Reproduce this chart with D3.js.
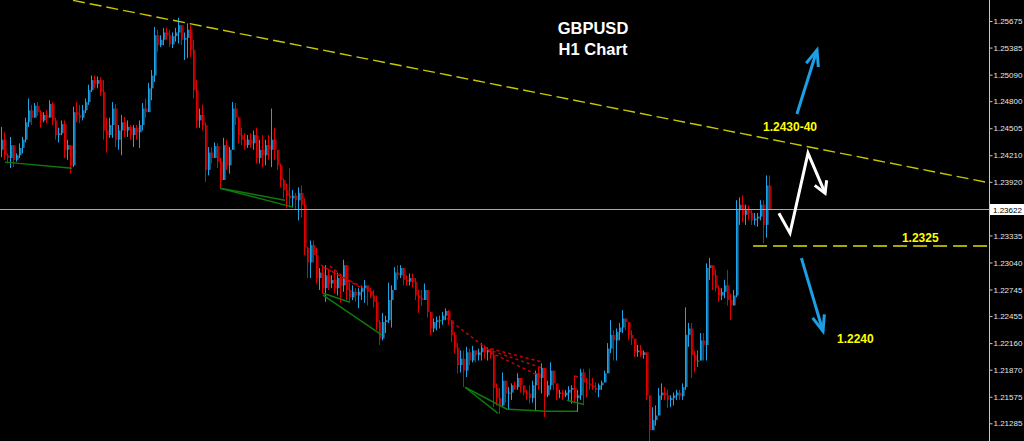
<!DOCTYPE html>
<html><head><meta charset="utf-8">
<script src="https://cdn.jsdelivr.net/npm/d3@7"></script>
<style>html,body{margin:0;padding:0;background:#000;overflow:hidden}</style>
</head><body><svg id="c" width="1024" height="441"></svg>
<script>
// ---------------- DATA ----------------
const firstOpen = 1.2427;
const highs = [1.2452,1.2446,1.2423,1.2441,1.2427,1.2423,1.2434,1.2441,1.2462,1.2483,1.2476,1.2478,1.2479,1.2470,1.2468,1.2470,1.2481,1.2479,1.2462,1.2451,
1.2459,1.2459,1.2438,1.2432,1.2474,1.2479,1.2476,1.2476,1.2483,1.2498,1.2508,1.2508,1.2507,1.2506,1.2503,1.2462,1.2462,1.2479,1.2477,1.2454,
1.2465,1.2463,1.2459,1.2454,1.2454,1.2454,1.2459,1.2478,1.2483,1.2500,1.2514,1.2561,1.2558,1.2552,1.2560,1.2560,1.2558,1.2555,1.2560,1.2571,
1.2561,1.2555,1.2565,1.2563,1.2547,1.2503,1.2472,1.2476,1.2457,1.2430,1.2430,1.2435,1.2434,1.2418,1.2440,1.2438,1.2430,1.2479,1.2478,1.2463,
1.2451,1.2445,1.2443,1.2445,1.2448,1.2451,1.2438,1.2443,1.2438,1.2443,1.2472,1.2451,1.2427,1.2412,1.2396,1.2390,1.2407,1.2383,1.2380,1.2386,
1.2388,1.2374,1.2321,1.2328,1.2328,1.2320,1.2298,1.2301,1.2301,1.2296,1.2290,1.2296,1.2293,1.2290,1.2307,1.2301,1.2285,1.2279,1.2276,1.2276,
1.2279,1.2285,1.2279,1.2276,1.2274,1.2268,1.2241,1.2249,1.2246,1.2282,1.2279,1.2299,1.2301,1.2301,1.2298,1.2290,1.2292,1.2292,1.2287,1.2274,
1.2274,1.2281,1.2268,1.2250,1.2243,1.2245,1.2246,1.2250,1.2254,1.2252,1.2241,1.2228,1.2216,1.2208,1.2208,1.2212,1.2210,1.2213,1.2208,1.2210,
1.2216,1.2214,1.2211,1.2210,1.2208,1.2172,1.2167,1.2184,1.2175,1.2168,1.2172,1.2174,1.2183,1.2173,1.2169,1.2165,1.2170,1.2175,1.2186,1.2190,
1.2194,1.2183,1.2175,1.2195,1.2186,1.2170,1.2165,1.2165,1.2165,1.2169,1.2170,1.2181,1.2165,1.2188,1.2188,1.2178,1.2188,1.2178,1.2173,1.2172,
1.2175,1.2186,1.2216,1.2241,1.2230,1.2232,1.2238,1.2252,1.2243,1.2236,1.2230,1.2219,1.2214,1.2214,1.2208,1.2206,1.2159,1.2146,1.2148,1.2167,
1.2172,1.2168,1.2165,1.2159,1.2162,1.2165,1.2165,1.2172,1.2255,1.2238,1.2238,1.2208,1.2208,1.2227,1.2227,1.2303,1.2309,1.2301,1.2296,1.2279,
1.2276,1.2285,1.2296,1.2270,1.2274,1.2372,1.2375,1.2377,1.2367,1.2366,1.2361,1.2358,1.2358,1.2372,1.2372,1.2399,1.2399];
const lows = [1.2419,1.2416,1.2412,1.2407,1.2408,1.2414,1.2418,1.2423,1.2435,1.2452,1.2454,1.2462,1.2464,1.2451,1.2457,1.2456,1.2463,1.2454,1.2438,1.2435,
1.2443,1.2418,1.2416,1.2401,1.2408,1.2457,1.2456,1.2459,1.2467,1.2476,1.2490,1.2494,1.2494,1.2486,1.2438,1.2424,1.2440,1.2440,1.2430,1.2427,
1.2421,1.2441,1.2441,1.2438,1.2430,1.2438,1.2429,1.2448,1.2462,1.2476,1.2481,1.2501,1.2534,1.2539,1.2541,1.2547,1.2539,1.2538,1.2545,1.2543,
1.2541,1.2525,1.2527,1.2528,1.2483,1.2451,1.2451,1.2448,1.2392,1.2399,1.2412,1.2419,1.2407,1.2385,1.2401,1.2405,1.2401,1.2427,1.2454,1.2434,
1.2432,1.2427,1.2429,1.2429,1.2427,1.2412,1.2412,1.2408,1.2410,1.2416,1.2408,1.2416,1.2405,1.2386,1.2374,1.2363,1.2364,1.2364,1.2361,1.2350,
1.2353,1.2312,1.2287,1.2287,1.2304,1.2281,1.2274,1.2270,1.2261,1.2274,1.2276,1.2270,1.2268,1.2260,1.2272,1.2263,1.2261,1.2263,1.2261,1.2254,
1.2263,1.2260,1.2257,1.2265,1.2255,1.2230,1.2214,1.2219,1.2227,1.2238,1.2233,1.2274,1.2285,1.2287,1.2279,1.2279,1.2279,1.2277,1.2263,1.2249,
1.2257,1.2263,1.2244,1.2225,1.2228,1.2230,1.2232,1.2236,1.2241,1.2236,1.2217,1.2205,1.2183,1.2184,1.2168,1.2179,1.2192,1.2195,1.2195,1.2197,
1.2197,1.2199,1.2197,1.2199,1.2146,1.2148,1.2139,1.2146,1.2151,1.2143,1.2154,1.2165,1.2165,1.2162,1.2159,1.2154,1.2150,1.2151,1.2143,1.2165,
1.2161,1.2135,1.2157,1.2165,1.2165,1.2154,1.2156,1.2154,1.2157,1.2154,1.2150,1.2151,1.2141,1.2154,1.2148,1.2157,1.2165,1.2165,1.2162,1.2157,
1.2165,1.2175,1.2186,1.2205,1.2197,1.2197,1.2219,1.2227,1.2230,1.2219,1.2214,1.2201,1.2201,1.2201,1.2199,1.2154,1.2109,1.2121,1.2126,1.2137,
1.2154,1.2154,1.2145,1.2146,1.2148,1.2154,1.2154,1.2154,1.2165,1.2212,1.2178,1.2184,1.2190,1.2197,1.2197,1.2197,1.2285,1.2274,1.2272,1.2261,
1.2263,1.2265,1.2257,1.2241,1.2257,1.2266,1.2345,1.2348,1.2345,1.2350,1.2345,1.2345,1.2343,1.2350,1.2325,1.2331,1.2361];
const closes = [1.2438,1.2421,1.2418,1.2432,1.2416,1.2421,1.2429,1.2438,1.2457,1.2470,1.2462,1.2475,1.2468,1.2459,1.2465,1.2462,1.2477,1.2459,1.2443,1.2445,
1.2455,1.2427,1.2432,1.2410,1.2468,1.2465,1.2462,1.2470,1.2479,1.2492,1.2503,1.2499,1.2503,1.2490,1.2448,1.2443,1.2454,1.2472,1.2438,1.2448,
1.2457,1.2448,1.2452,1.2443,1.2451,1.2446,1.2454,1.2472,1.2468,1.2494,1.2508,1.2552,1.2541,1.2547,1.2555,1.2552,1.2542,1.2551,1.2555,1.2563,
1.2547,1.2549,1.2558,1.2536,1.2492,1.2459,1.2465,1.2454,1.2405,1.2424,1.2418,1.2431,1.2414,1.2394,1.2432,1.2410,1.2427,1.2472,1.2462,1.2443,
1.2438,1.2432,1.2438,1.2434,1.2443,1.2418,1.2427,1.2421,1.2432,1.2427,1.2438,1.2427,1.2410,1.2394,1.2383,1.2377,1.2374,1.2377,1.2372,1.2380,
1.2367,1.2320,1.2304,1.2323,1.2312,1.2287,1.2293,1.2276,1.2290,1.2281,1.2285,1.2276,1.2287,1.2279,1.2301,1.2274,1.2266,1.2272,1.2268,1.2272,
1.2276,1.2279,1.2272,1.2268,1.2261,1.2239,1.2221,1.2239,1.2241,1.2263,1.2274,1.2293,1.2290,1.2298,1.2285,1.2283,1.2287,1.2283,1.2268,1.2265,
1.2263,1.2274,1.2250,1.2232,1.2239,1.2241,1.2241,1.2246,1.2251,1.2241,1.2225,1.2211,1.2192,1.2199,1.2186,1.2206,1.2197,1.2208,1.2203,1.2206,
1.2211,1.2206,1.2208,1.2203,1.2167,1.2156,1.2148,1.2175,1.2161,1.2162,1.2170,1.2168,1.2178,1.2170,1.2162,1.2161,1.2156,1.2170,1.2183,1.2178,
1.2189,1.2159,1.2170,1.2186,1.2172,1.2161,1.2162,1.2159,1.2162,1.2165,1.2167,1.2156,1.2159,1.2184,1.2173,1.2172,1.2170,1.2167,1.2165,1.2170,
1.2173,1.2183,1.2210,1.2225,1.2219,1.2228,1.2233,1.2243,1.2239,1.2225,1.2221,1.2206,1.2208,1.2203,1.2206,1.2159,1.2121,1.2132,1.2137,1.2159,
1.2162,1.2159,1.2154,1.2156,1.2159,1.2162,1.2158,1.2168,1.2225,1.2232,1.2203,1.2197,1.2197,1.2219,1.2214,1.2298,1.2301,1.2290,1.2276,1.2268,
1.2272,1.2279,1.2263,1.2257,1.2268,1.2361,1.2367,1.2356,1.2361,1.2358,1.2350,1.2352,1.2354,1.2367,1.2345,1.2388,1.23622];

const tickValues = [1.25675,1.25385,1.25090,1.24800,1.24505,1.24210,1.23920,1.23335,1.23040,1.22745,1.22455,1.22160,1.21870,1.21575,1.21285];
const lastPrice = 1.23622;

// overlay lines, in (bar index, price)
const resistanceLine = [{i:24,p:1.2590},{i:329.3,p:1.2391}];
const supportLevel = 1.2322, supportStartIndex = 250.7;
const greenLines = [
  [{i:1.33,p:1.24135},{i:23.67,p:1.24069}],
  [{i:73,p:1.23851},{i:97.33,p:1.23644}],
  [{i:73,p:1.23851},{i:94.67,p:1.23720}],
  [{i:107.33,p:1.22704},{i:116.33,p:1.22606}],
  [{i:107.33,p:1.22683},{i:127,p:1.22246}],
  [{i:154.67,p:1.21678},{i:165.67,p:1.21394}],
  [{i:154.67,p:1.21678},{i:168.67,p:1.21438},{i:182,p:1.21416},{i:192,p:1.21416}],
  [{i:188.67,p:1.21536},{i:194,p:1.21492}]
];
const redLines = [
  [{i:106.67,p:1.23010},{i:119.67,p:1.22770}],
  [{i:107.33,p:1.22988},{i:124.67,p:1.22704}],
  [{i:109.67,p:1.23000},{i:116.33,p:1.22825}],
  [{i:148.67,p:1.22431},{i:161.33,p:1.22115}],
  [{i:161.33,p:1.22115},{i:180.67,p:1.21951}],
  [{i:162,p:1.22093},{i:180.67,p:1.21885}],
  [{i:163,p:1.22060},{i:179.67,p:1.21798}],
  [{i:191.33,p:1.21798},{i:194.67,p:1.21787}]
];
const arrowUp = [{i:265.3,p:1.24660},{i:272,p:1.25358}];
const arrowDown = [{i:266.8,p:1.23087},{i:274,p:1.22289}];
const zigzag = [{i:259.3,p:1.23578},{i:263,p:1.23360},{i:269,p:1.24233},{i:274.7,p:1.23796}];
const notes = [
  {text:"1.2430-40", i:254, p:1.24479},
  {text:"1.2325", i:300.3, p:1.23261},
  {text:"1.2240", i:278.67, p:1.22158}
];
const titleLines = ["GBPUSD","H1 Chart"];

// ---------------- CHART ----------------
const W = 1024, H = 441, axisX = 989;
const svg = d3.select("#c");
svg.append("rect").attr("width",W).attr("height",H).attr("fill","#000");

const x = d3.scaleLinear().domain([0, closes.length-1]).range([1, 769]);
const y = d3.scaleLinear().domain([1.21285, 1.25675]).range([423.3, 21]);

svg.append("defs").append("clipPath").attr("id","plot")
  .append("rect").attr("x",0).attr("y",0).attr("width",axisX).attr("height",H);
const g = svg.append("g").attr("clip-path","url(#plot)");

const line = d3.line().x(d=>x(d.i)).y(d=>y(d.p));

// candles
const bars = closes.map((c,i)=>{
  const o = i ? closes[i-1] : firstOpen;
  return {i, o, c, h: Math.max(highs[i], o, c), l: Math.min(lows[i], o, c)};
});
const colorOf = d => d.c > d.o ? ["#1ea3e6","#1a7fb8"] : d.c < d.o ? ["#e00000","#b00000"] : ["#00c000","#00a000"];
const cg = g.append("g");
cg.selectAll("line.w").data(bars).join("line")
  .attr("x1",d=>Math.round(x(d.i))+0.5).attr("x2",d=>Math.round(x(d.i))+0.5)
  .attr("y1",d=>y(d.h)).attr("y2",d=>y(d.l))
  .attr("stroke",d=>colorOf(d)[0]).attr("stroke-width",1);
cg.selectAll("rect.b").data(bars).join("rect")
  .attr("x",d=>Math.round(x(d.i))+1).attr("width",1.6)
  .attr("y",d=>y(Math.max(d.o,d.c)))
  .attr("height",d=>Math.max(1, Math.abs(y(d.o)-y(d.c))))
  .attr("fill",d=>colorOf(d)[1]);

// indicator lines
g.selectAll("path.gr").data(greenLines).join("path")
  .attr("d",line).attr("fill","none").attr("stroke","#0c7a0c").attr("stroke-width",1.5);
g.selectAll("path.rd").data(redLines).join("path")
  .attr("d",line).attr("fill","none").attr("stroke","#d00000").attr("stroke-width",1.4)
  .attr("stroke-dasharray","3,3");

// last price line
g.append("line").attr("x1",0).attr("x2",axisX).attr("y1",Math.round(y(lastPrice))+0.5).attr("y2",Math.round(y(lastPrice))+0.5)
  .attr("stroke","#a8a8a8").attr("stroke-width",1);

// resistance trendline
g.append("path").attr("d",line(resistanceLine)).attr("fill","none")
  .attr("stroke","#c8c800").attr("stroke-width",1.4).attr("stroke-dasharray","12,5");
// support level
g.append("line").attr("x1",x(supportStartIndex)).attr("x2",axisX)
  .attr("y1",y(supportLevel)).attr("y2",y(supportLevel))
  .attr("stroke","#a8a800").attr("stroke-width",2).attr("stroke-dasharray","14,6");

// arrows
function arrow(pts, color, width, len, ang){
  const P = pts.map(d=>[x(d.i), y(d.p)]);
  g.append("path").attr("d", d3.line()(P)).attr("fill","none").attr("stroke",color)
    .attr("stroke-width",width).attr("stroke-linejoin","miter").attr("stroke-linecap","butt");
  const [x1,y1] = P[P.length-2], [x2,y2] = P[P.length-1];
  const a = Math.atan2(y2-y1, x2-x1) + Math.PI;
  const r = ang*Math.PI/180;
  const w1 = [x2+len*Math.cos(a-r), y2+len*Math.sin(a-r)];
  const w2 = [x2+len*Math.cos(a+r), y2+len*Math.sin(a+r)];
  g.append("path").attr("d", d3.line()([w1,[x2,y2],w2])).attr("fill","none").attr("stroke",color)
    .attr("stroke-width",width).attr("stroke-linejoin","miter");
}
arrow(arrowUp, "#1c9fe4", 3, 17, 22);
arrow(arrowDown, "#1c9fe4", 3, 17, 21);
arrow(zigzag, "#ffffff", 3, 13, 30);

// annotation texts
g.selectAll("text.note").data(notes).join("text")
  .attr("x",d=>x(d.i)).attr("y",d=>y(d.p))
  .attr("fill","#ffff00").attr("font-family","Liberation Sans, Arial, sans-serif")
  .attr("font-weight","bold").attr("font-size",12).text(d=>d.text);

// title
svg.selectAll("text.title").data(titleLines).join("text")
  .attr("x",593).attr("y",(d,k)=>34+k*21).attr("text-anchor","middle")
  .attr("fill","#ffffff").attr("font-family","Liberation Sans, Arial, sans-serif")
  .attr("font-weight","bold").attr("font-size",16.5).text(d=>d);

// price axis
svg.append("line").attr("x1",axisX+0.5).attr("x2",axisX+0.5).attr("y1",0).attr("y2",H)
  .attr("stroke","#c8c8c8").attr("stroke-width",1);
const ax = svg.append("g").attr("transform",`translate(${axisX+0.5},0)`)
  .call(d3.axisRight(y).tickValues(tickValues).tickFormat(d3.format(".5f")).tickSize(3).tickPadding(1));
ax.select(".domain").remove();
ax.selectAll(".tick line").attr("stroke","#c8c8c8");
ax.selectAll(".tick text").attr("fill","#e6e6e6").attr("font-family","Liberation Sans, Arial, sans-serif").attr("font-size",8);

// last price label
const ly = Math.round(y(lastPrice));
svg.append("rect").attr("x",axisX+1).attr("y",ly-5).attr("width",W-axisX-1).attr("height",11).attr("fill","#ffffff");
svg.append("text").attr("x",axisX+4).attr("y",ly+3.5).attr("fill","#000")
  .attr("font-family","Liberation Sans, Arial, sans-serif").attr("font-size",8).text(d3.format(".5f")(lastPrice));
</script>
</body></html>
